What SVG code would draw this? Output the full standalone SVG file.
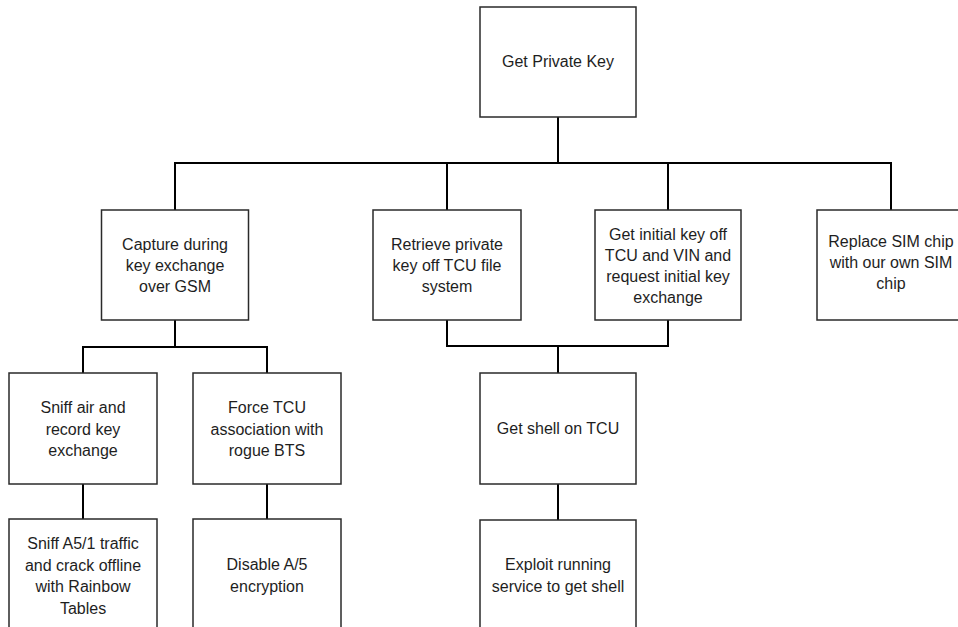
<svg xmlns="http://www.w3.org/2000/svg" width="958" height="627" viewBox="0 0 958 627">
  <style>
    .box { fill: #ffffff; stroke: #2a2a2a; stroke-width: 1.5; }
    .wire { fill: none; stroke: #000000; stroke-width: 2; }
    .lbl { font-family: "Liberation Sans", Arial, sans-serif; font-size: 16px; fill: #1e1e1e; text-anchor: middle; }
  </style>
  <rect width="958" height="627" fill="#ffffff"/>

  <!-- tree connectors -->
  <g id="connectors">
    <path class="wire" d="M558 117 V163"/>
    <path class="wire" d="M175 210 V163 H891 V210"/>
    <path class="wire" d="M447 163 V210"/>
    <path class="wire" d="M668 163 V210"/>
    <path class="wire" d="M175 320 V347"/>
    <path class="wire" d="M83 373 V347 H267 V373"/>
    <path class="wire" d="M447 320 V346 H668 V320"/>
    <path class="wire" d="M558 346 V373"/>
    <path class="wire" d="M83 484 V519"/>
    <path class="wire" d="M267 484 V519"/>
    <path class="wire" d="M558 484 V520"/>
  </g>

  <g id="root">
    <rect class="box" x="480" y="7" width="156" height="110"/>
    <text class="lbl" x="558" y="67">Get Private Key</text>
  </g>

  <g id="capture-gsm">
    <rect class="box" x="101.5" y="210" width="147" height="110"/>
    <text class="lbl" x="175" y="250">Capture during</text>
    <text class="lbl" x="175" y="271">key exchange</text>
    <text class="lbl" x="175" y="292">over GSM</text>
  </g>

  <g id="retrieve-fs">
    <rect class="box" x="373" y="210" width="148" height="110"/>
    <text class="lbl" x="447" y="250">Retrieve private</text>
    <text class="lbl" x="447" y="271">key off TCU file</text>
    <text class="lbl" x="447" y="292">system</text>
  </g>

  <g id="initial-key">
    <rect class="box" x="595" y="210" width="146" height="110"/>
    <text class="lbl" x="668" y="240">Get initial key off</text>
    <text class="lbl" x="668" y="261">TCU and VIN and</text>
    <text class="lbl" x="668" y="282">request initial key</text>
    <text class="lbl" x="668" y="303">exchange</text>
  </g>

  <g id="replace-sim">
    <rect class="box" x="817" y="210" width="148" height="110"/>
    <text class="lbl" x="891" y="247">Replace SIM chip</text>
    <text class="lbl" x="891" y="268">with our own SIM</text>
    <text class="lbl" x="891" y="289">chip</text>
  </g>

  <g id="sniff-air">
    <rect class="box" x="9" y="373" width="148" height="111"/>
    <text class="lbl" x="83" y="413">Sniff air and</text>
    <text class="lbl" x="83" y="434.5">record key</text>
    <text class="lbl" x="83" y="456">exchange</text>
  </g>

  <g id="rogue-bts">
    <rect class="box" x="193" y="373" width="148" height="111"/>
    <text class="lbl" x="267" y="413">Force TCU</text>
    <text class="lbl" x="267" y="434.5">association with</text>
    <text class="lbl" x="267" y="456">rogue BTS</text>
  </g>

  <g id="shell-tcu">
    <rect class="box" x="480" y="373" width="156" height="111"/>
    <text class="lbl" x="558" y="434">Get shell on TCU</text>
  </g>

  <g id="crack-a51">
    <rect class="box" x="9" y="519" width="148" height="130"/>
    <text class="lbl" x="83" y="549">Sniff A5/1 traffic</text>
    <text class="lbl" x="83" y="570.5">and crack offline</text>
    <text class="lbl" x="83" y="592">with Rainbow</text>
    <text class="lbl" x="83" y="614">Tables</text>
  </g>

  <g id="disable-a5">
    <rect class="box" x="193" y="519" width="148" height="130"/>
    <text class="lbl" x="267" y="570">Disable A/5</text>
    <text class="lbl" x="267" y="591.5">encryption</text>
  </g>

  <g id="exploit-service">
    <rect class="box" x="480" y="520" width="156" height="130"/>
    <text class="lbl" x="558" y="570">Exploit running</text>
    <text class="lbl" x="558" y="591.5">service to get shell</text>
  </g>
</svg>
